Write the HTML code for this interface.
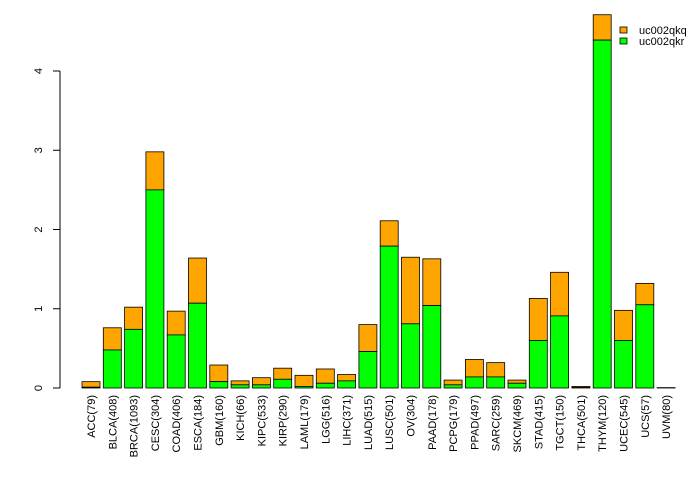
<!DOCTYPE html>
<html><head><meta charset="utf-8"><style>
body{margin:0;background:#fff}
svg{display:block;font-family:"Liberation Sans",sans-serif}
</style></head><body>
<svg id="chart" width="700" height="480"></svg>
<script>
const categories=["ACC(79)","BLCA(408)","BRCA(1093)","CESC(304)","COAD(406)","ESCA(184)","GBM(160)","KICH(66)","KIPC(533)","KIRP(290)","LAML(179)","LGG(516)","LIHC(371)","LUAD(515)","LUSC(501)","OV(304)","PAAD(178)","PCPG(179)","PPAD(497)","SARC(259)","SKCM(469)","STAD(415)","TGCT(150)","THCA(501)","THYM(120)","UCEC(545)","UCS(57)","UVM(80)"];
const greenValues=[0.01,0.48,0.74,2.5,0.67,1.07,0.08,0.04,0.04,0.11,0.02,0.06,0.09,0.46,1.79,0.81,1.04,0.04,0.14,0.14,0.06,0.6,0.91,0.005,4.39,0.6,1.05,0];
const totalValues=[0.08,0.76,1.02,2.98,0.97,1.64,0.29,0.09,0.13,0.25,0.16,0.24,0.17,0.8,2.11,1.65,1.63,0.1,0.36,0.32,0.1,1.13,1.46,0.02,4.71,0.98,1.32,0.005];
const yTicks=[0,1,2,3,4];
const NS="http://www.w3.org/2000/svg";
const svg=document.getElementById('chart');
const y=v=>388-v*79.25;
const xc=i=>91+i*21.3;
const bw=18;
function mk(t,a){const e=document.createElementNS(NS,t);for(const k in a)e.setAttribute(k,a[k]);svg.appendChild(e);return e;}
const ax=mk('line',{x1:60,x2:60,y1:y(0),y2:y(4),stroke:'#000'});


yTicks.forEach(t=>{
  const l=mk('line',{x1:53,x2:60,y1:y(t),y2:y(t),stroke:'#000'});
  
  
  const tx=mk('text',{x:0,y:0,'font-size':11,'text-anchor':'middle',transform:`translate(42,${y(t)}) rotate(-90)`});
  tx.textContent=t;
  
  
});
categories.forEach((c,i)=>{
  const x0=xc(i)-bw/2;
  const o=mk('rect',{x:x0,y:y(totalValues[i]),width:bw,height:y(greenValues[i])-y(totalValues[i]),fill:'#FFA500',stroke:'#000','stroke-width':0.8});
  
  
  const g=mk('rect',{x:x0,y:y(greenValues[i]),width:bw,height:y(0)-y(greenValues[i]),fill:'#00FF00',stroke:'#000','stroke-width':0.8});
  
  
  const tx=mk('text',{x:0,y:0,'font-size':11,'text-anchor':'end',transform:`translate(${xc(i)+4},395) rotate(-90)`});
  tx.textContent=c;
  
  
});
[['#FFA500','uc002qkq',27],['#00FF00','uc002qkr',38]].forEach(([f,n,yy])=>{
  const r=mk('rect',{x:620,y:yy,width:7,height:6,fill:f,stroke:'#000','stroke-width':0.8});
  
  
  const t=mk('text',{x:639,y:yy+7,'font-size':11});
  t.textContent=n;
  
  
});
</script>
</body></html>
